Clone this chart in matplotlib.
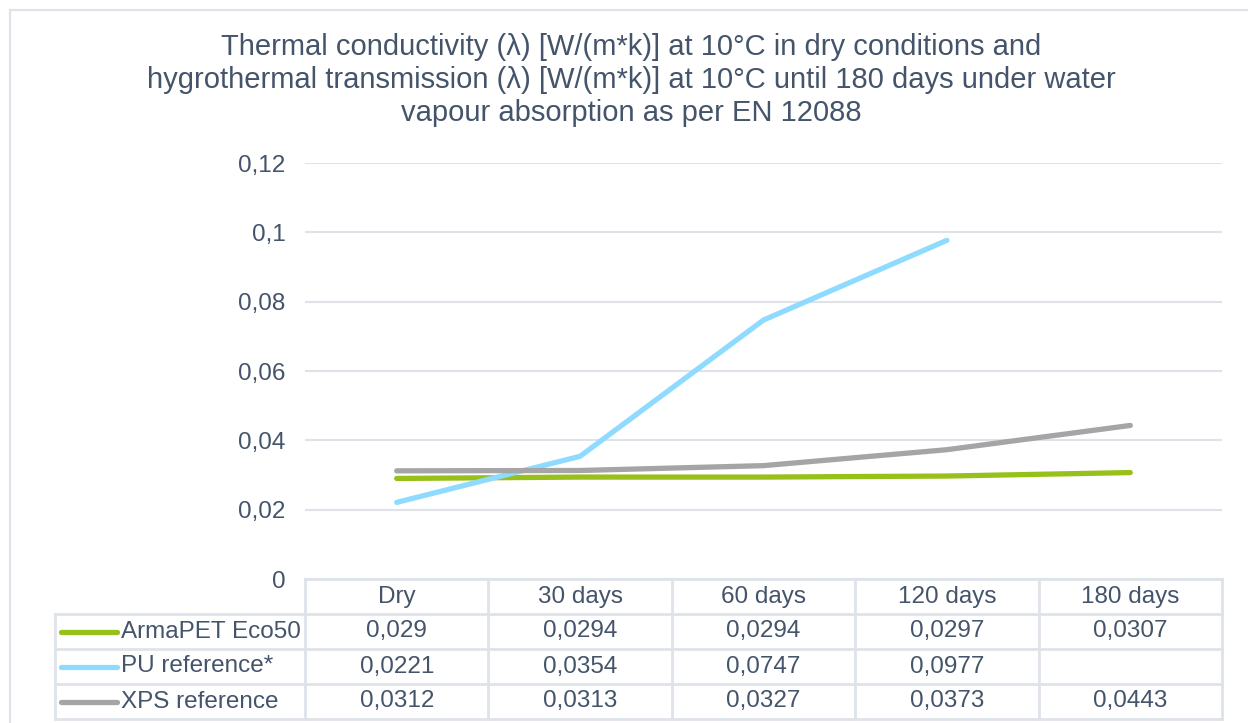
import matplotlib
matplotlib.use("Agg")
import matplotlib.pyplot as plt
import numpy as np
from matplotlib.lines import Line2D

plt.rcParams['font.family'] = ['Liberation Sans', 'DejaVu Sans']

categories = ["Dry", "30 days", "60 days", "120 days", "180 days"]
armapet = [0.029, 0.0294, 0.0294, 0.0297, 0.0307]
pu_ref = [0.0221, 0.0354, 0.0747, 0.0977, None]
xps_ref = [0.0312, 0.0313, 0.0327, 0.0373, 0.0443]
series_names = ["ArmaPET Eco50", "PU reference*", "XPS reference"]
series_values = [armapet, pu_ref, xps_ref]
series_colors = ["#97C11A", "#8FDBFF", "#A5A5A5"]
yticks = [0, 0.02, 0.04, 0.06, 0.08, 0.1, 0.12]
title_lines = [
    "Thermal conductivity (λ) [W/(m*k)] at 10°C in dry conditions and",
    "hygrothermal transmission (λ) [W/(m*k)] at 10°C until 180 days under water",
    "vapour absorption as per EN 12088",
]

TXT = "#44546A"
GRID = "#DEE3EA"
FS = 17.5
W, H = 1248, 723
fig = plt.figure(figsize=(W / 100, H / 100), dpi=100)
fig.patch.set_facecolor("white")

# chart border (partially visible)
fig.add_artist(Line2D([10 / W, 10 / W], [0, 1 - 9.5 / H], transform=fig.transFigure, color=GRID, lw=1.5))
fig.add_artist(Line2D([10 / W, 1], [1 - 9.5 / H, 1 - 9.5 / H], transform=fig.transFigure, color=GRID, lw=1.5))

L, R, T, B = 305, 1222, 163, 579
ax = fig.add_axes([L / W, 1 - B / H, (R - L) / W, (B - T) / H])
x = np.arange(len(categories))
for name, vals, col in zip(series_names, series_values, series_colors):
    xv = [xi for xi, v in zip(x, vals) if v is not None]
    yv = [v for v in vals if v is not None]
    ax.plot(xv, yv, color=col, lw=3.8, solid_capstyle="round", solid_joinstyle="round", zorder=3)

ax.set_xlim(-0.5, len(categories) - 0.5)
ax.set_ylim(0, 0.12)
ax.set_yticks(yticks)
ax.set_yticklabels([f"{v:g}".replace(".", ",") for v in yticks], fontsize=FS, color=TXT)
ax.tick_params(axis="y", length=0, pad=14)
ax.set_xticks([])
for s in ax.spines.values():
    s.set_visible(False)
ax.grid(axis="y", color=GRID, lw=1.5)
ax.set_axisbelow(True)

# data table
row_h = 35 / (B - T)
ncat = len(categories)
tl = -0.5
legend_left = tl - (L - 55) / (R - L) * ncat
bt = ax.get_xaxis_transform()
lk = dict(color=GRID, lw=2, clip_on=False, transform=bt)
ax.plot([tl, ncat - 0.5], [0, 0], **lk)
for i in range(1, 5):
    y = -i * row_h
    ax.plot([legend_left, ncat - 0.5], [y, y], **lk)
for j in range(ncat + 1):
    ax.plot([j - 0.5, j - 0.5], [0, -4 * row_h], **lk)
ax.plot([legend_left, legend_left], [-row_h, -4 * row_h], **lk)

for j, c in enumerate(categories):
    ax.text(j, -0.5 * row_h, c, ha="center", va="center", fontsize=FS, color=TXT, transform=bt)

px = ncat / (R - L)
for i, (name, vals, col) in enumerate(zip(series_names, series_values, series_colors)):
    yc = -(i + 1.5) * row_h
    ax.plot([legend_left + 6 * px, legend_left + 62 * px], [yc, yc], color=col, lw=3.8,
            solid_capstyle="round", clip_on=False, transform=bt)
    ax.text(legend_left + 66 * px, yc, name, ha="left", va="center", fontsize=FS, color=TXT, transform=bt)
    for j, v in enumerate(vals):
        if v is None:
            continue
        ax.text(j, yc, str(v).replace(".", ","), ha="center", va="center", fontsize=FS, color=TXT,
                transform=bt)

for k, line in enumerate(title_lines):
    fig.text(631 / W, 1 - (47 + 33 * k) / H, line, ha="center", va="center", fontsize=21, color=TXT)

fig.savefig("out.png", dpi=100)
